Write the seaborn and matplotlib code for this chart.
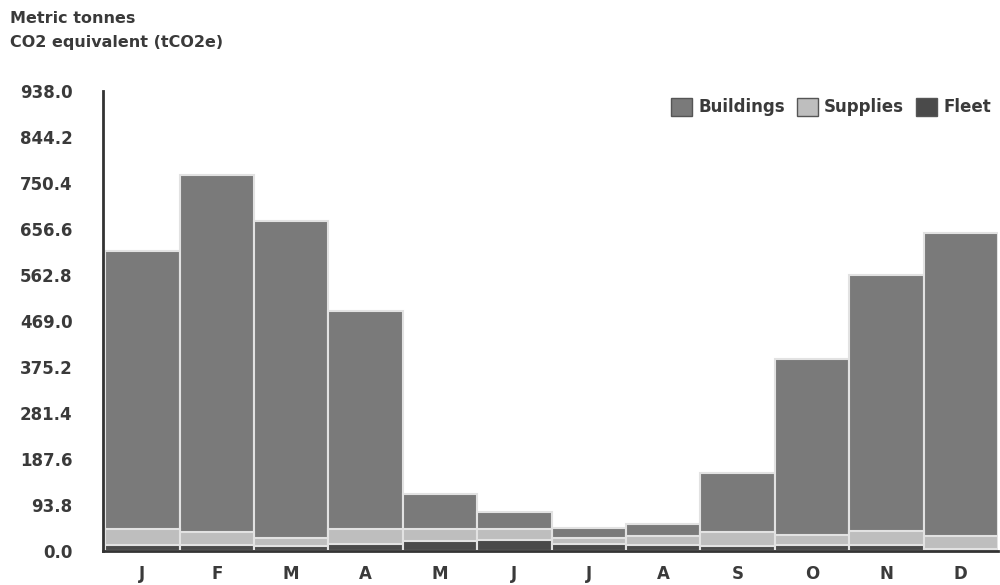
import pandas as pd
import numpy as np
import matplotlib.pyplot as plt
import seaborn as sns
from matplotlib.patches import Patch

# Datos (tCO2e por mes)
months = ['Jan', 'Feb', 'Mar', 'Apr', 'May', 'Jun', 'Jul', 'Aug', 'Sep', 'Oct', 'Nov', 'Dec']
month_labels = ['J', 'F', 'M', 'A', 'M', 'J', 'J', 'A', 'S', 'O', 'N', 'D']
buildings = [568, 729, 645, 446, 73, 35, 20, 25, 122, 360, 522, 618]
supplies = [32, 25, 17, 30, 24, 23, 12, 18, 28, 20, 28, 25]
fleet = [12, 13, 10, 14, 20, 22, 14, 12, 10, 12, 12, 5]
y_ticks = [0.0, 93.8, 187.6, 281.4, 375.2, 469.0, 562.8, 656.6, 750.4, 844.2, 938.0]

df = pd.DataFrame({'month': months, 'Buildings': buildings,
                   'Supplies': supplies, 'Fleet': fleet})
df['fleet_top'] = df['Fleet']
df['supplies_top'] = df['Fleet'] + df['Supplies']
df['total'] = df['supplies_top'] + df['Buildings']

colors = {'Buildings': '#7a7a7a', 'Supplies': '#bebebe', 'Fleet': '#4a4a4a'}
text_color = '#3a3a3a'

sns.set_style('white')
plt.rcParams['font.family'] = ['DejaVu Sans']
plt.rcParams['font.weight'] = 'bold'

fig = plt.figure(figsize=(10, 5.85), dpi=100)
ax = fig.add_axes([0.103, 0.058, 0.895, 0.787])

# Barras apiladas: se dibuja el total y luego las capas inferiores encima
for col, name in [('total', 'Buildings'), ('supplies_top', 'Supplies'), ('fleet_top', 'Fleet')]:
    sns.barplot(data=df, x='month', y=col, color=colors[name], saturation=1,
                width=1.0, edgecolor='#e2e2e2', linewidth=1.5, ax=ax)

ax.set_xlim(-0.53, 11.5)
ax.set_ylim(0, 938.0)
ax.set_yticks(y_ticks)
ax.set_yticklabels([f'{v:.1f}' for v in y_ticks])
ax.set_xticks(range(12))
ax.set_xticklabels(month_labels)
ax.set_xticks(np.arange(-0.5, 12, 1), minor=True)
ax.tick_params(axis='x', which='major', length=0, pad=10, labelsize=12, labelcolor=text_color)
ax.tick_params(axis='x', which='minor', length=5, width=1.5, color='#333333', direction='out')
ax.tick_params(axis='y', length=5, width=1.5, color='#333333', direction='out',
               pad=17, labelsize=12, labelcolor=text_color)
ax.set_xlabel('')
ax.set_ylabel('')

sns.despine(ax=ax, top=True, right=True)
for side in ['left', 'bottom']:
    ax.spines[side].set_color('#333333')
    ax.spines[side].set_linewidth(2)

fig.text(0.01, 0.968, 'Metric tonnes', fontsize=11.5, fontweight='bold', color=text_color, va='center')
fig.text(0.01, 0.927, 'CO2 equivalent (tCO2e)', fontsize=11.5, fontweight='bold', color=text_color, va='center')

handles = [Patch(facecolor=colors[n], edgecolor='#555555', label=n) for n in ['Buildings', 'Supplies', 'Fleet']]
leg = fig.legend(handles=handles, loc='center right', bbox_to_anchor=(1.006, 0.817), ncol=3,
                 frameon=False, fontsize=12, handlelength=1.3, handleheight=1.3,
                 handletextpad=0.35, columnspacing=0.7)
for t in leg.get_texts():
    t.set_color(text_color)
    t.set_fontweight('bold')

plt.savefig('out.png', dpi=100)
